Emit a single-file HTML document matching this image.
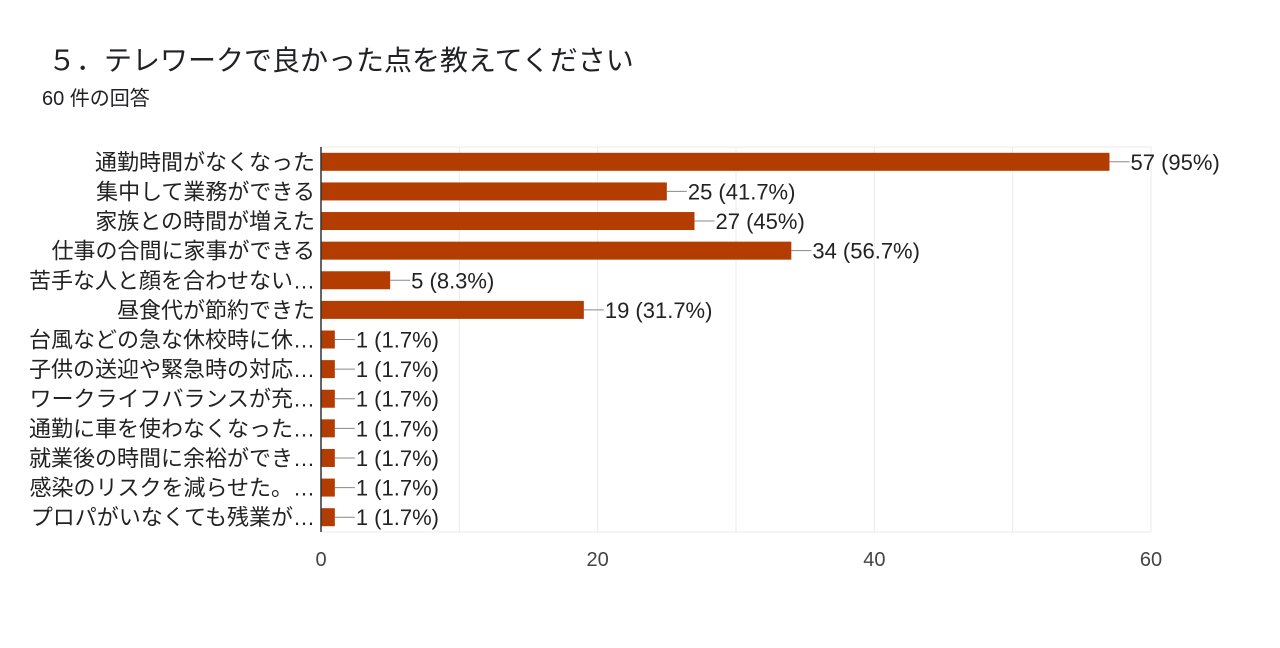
<!DOCTYPE html>
<html><head><meta charset="utf-8"><style>
body{margin:0;background:#fff;width:1280px;height:643px;overflow:hidden;font-family:"Liberation Sans","Noto Sans CJK JP",sans-serif}
</style></head><body>
<svg width="1280" height="643" xmlns="http://www.w3.org/2000/svg" id="chart">
<text x="48" y="70" font-size="28" fill="#202124" font-family="Liberation Sans, Noto Sans CJK JP, sans-serif">５．テレワークで良かった点を教えてください</text>
<text x="42" y="105" font-size="20" fill="#202124" font-family="Liberation Sans, Noto Sans CJK JP, sans-serif">60 件の回答</text>
<g id="grid"></g><g id="bars"></g><g id="labels"></g>
</svg>
<script>
const categories=["通勤時間がなくなった","集中して業務ができる","家族との時間が増えた","仕事の合間に家事ができる","苦手な人と顔を合わせない…","昼食代が節約できた","台風などの急な休校時に休…","子供の送迎や緊急時の対応…","ワークライフバランスが充…","通勤に車を使わなくなった…","就業後の時間に余裕ができ…","感染のリスクを減らせた。…","プロパがいなくても残業が…"];
const values=[57,25,27,34,5,19,1,1,1,1,1,1,1];
const valueLabels=["57 (95%)","25 (41.7%)","27 (45%)","34 (56.7%)","5 (8.3%)","19 (31.7%)","1 (1.7%)","1 (1.7%)","1 (1.7%)","1 (1.7%)","1 (1.7%)","1 (1.7%)","1 (1.7%)"];
const ticks=[0,20,40,60];
const gridTicks=[0,10,20,30,40,50,60];
const NS="http://www.w3.org/2000/svg";
const X0=321,X1=1151,XMAX=60,TOP=147,BOT=532;
const x=v=>X0+(X1-X0)*v/XMAX;
const step=(BOT-TOP)/categories.length;
const yc=i=>TOP+step*(i+0.5);
function mk(tag,attrs,parent){const e=document.createElementNS(NS,tag);for(const k in attrs)e.setAttribute(k,attrs[k]);document.getElementById(parent).appendChild(e);return e;}
gridTicks.forEach(t=>{
 const l=mk('line',{x1:x(t),x2:x(t),y1:TOP,y2:BOT,stroke:'#ebebeb','stroke-width':1},'grid');
 
 
});
const tl=mk('line',{x1:X0,x2:X1,y1:TOP,y2:TOP,stroke:'#ebebeb'},'grid');


const bl=mk('line',{x1:X0,x2:X1,y1:BOT,y2:BOT,stroke:'#ebebeb'},'grid');


ticks.forEach(t=>{
 const e=mk('text',{x:x(t),y:566,'font-size':20,fill:'#444','text-anchor':'middle'},'labels');
 e.textContent=t;
 
 
});
categories.forEach((c,i)=>{
 const y=yc(i);
 const r=mk('rect',{x:X0,y:y-9,width:x(values[i])-X0,height:18,fill:'#b33c00'},'bars');
 
 
 const lab=mk('text',{x:315,y:y+8,'font-size':22,fill:'#222','text-anchor':'end'},'labels');
 lab.textContent=c;
 
 
 const ex=x(values[i]);
 const ln=mk('line',{x1:ex,x2:ex+20,y1:y,y2:y,stroke:'#888','stroke-width':1},'labels');
 
 
 const vt=mk('text',{x:ex+21,y:y+8,'font-size':22,fill:'#222'},'labels');
 vt.textContent=valueLabels[i];
 
 
});
const ax=mk('line',{x1:X0,x2:X0,y1:TOP,y2:BOT,stroke:'#333','stroke-width':1.5},'labels');


</script>
</body></html>
